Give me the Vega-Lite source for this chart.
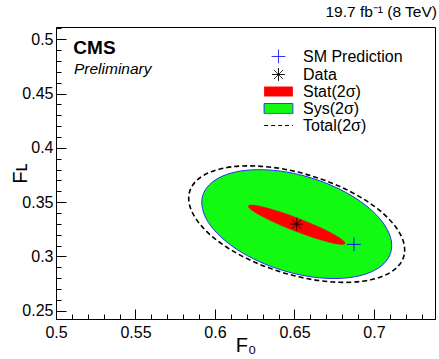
{
  "$schema": "https://vega.github.io/schema/vega-lite/v6.json",
  "width": 379,
  "height": 292,
  "autosize": {"type": "none"},
  "padding": {"left": 56, "top": 27, "right": 4, "bottom": 40},
  "background": "white",
  "title": {"text": "19.7 fb⁻¹ (8 TeV)", "anchor": "end", "frame": "group", "fontSize": 15.5, "fontWeight": "normal", "font": "Liberation Sans", "offset": 7, "dx": 2, "color": "black"},
  "config": {
    "view": {"stroke": "black", "strokeWidth": 1},
    "font": "Liberation Sans",
    "axis": {"grid": false, "labelFlush": false, "labelOverlap": false, "domainColor": "black", "tickColor": "black", "labelColor": "black", "titleColor": "black", "labelFont": "Liberation Sans", "titleFont": "Liberation Sans", "labelFontSize": 16, "titleFontSize": 20, "titleFontWeight": "normal", "tickWidth": 1, "domainWidth": 1}
  },
  "datasets": {
    "total": [
      {"i": 0, "F0": 0.7187, "FL": 0.2997}, {"i": 1, "F0": 0.7140, "FL": 0.2892}, {"i": 2, "F0": 0.7050, "FL": 0.2815},
      {"i": 3, "F0": 0.6924, "FL": 0.2771}, {"i": 4, "F0": 0.6770, "FL": 0.2763}, {"i": 5, "F0": 0.6599, "FL": 0.2791},
      {"i": 6, "F0": 0.6421, "FL": 0.2854}, {"i": 7, "F0": 0.6250, "FL": 0.2947}, {"i": 8, "F0": 0.6097, "FL": 0.3064},
      {"i": 9, "F0": 0.5972, "FL": 0.3197}, {"i": 10, "F0": 0.5885, "FL": 0.3337}, {"i": 11, "F0": 0.5840, "FL": 0.3474},
      {"i": 12, "F0": 0.5841, "FL": 0.3599}, {"i": 13, "F0": 0.5888, "FL": 0.3704}, {"i": 14, "F0": 0.5978, "FL": 0.3781},
      {"i": 15, "F0": 0.6104, "FL": 0.3825}, {"i": 16, "F0": 0.6258, "FL": 0.3833}, {"i": 17, "F0": 0.6430, "FL": 0.3805},
      {"i": 18, "F0": 0.6607, "FL": 0.3742}, {"i": 19, "F0": 0.6778, "FL": 0.3649}, {"i": 20, "F0": 0.6931, "FL": 0.3532},
      {"i": 21, "F0": 0.7056, "FL": 0.3399}, {"i": 22, "F0": 0.7143, "FL": 0.3259}, {"i": 23, "F0": 0.7188, "FL": 0.3122}
    ],
    "sys": [
      {"i": 0, "F0": 0.7105, "FL": 0.3034}, {"i": 1, "F0": 0.7062, "FL": 0.2933}, {"i": 2, "F0": 0.6981, "FL": 0.2856},
      {"i": 3, "F0": 0.6869, "FL": 0.2810}, {"i": 4, "F0": 0.6732, "FL": 0.2797}, {"i": 5, "F0": 0.6581, "FL": 0.2818},
      {"i": 6, "F0": 0.6425, "FL": 0.2872}, {"i": 7, "F0": 0.6275, "FL": 0.2955}, {"i": 8, "F0": 0.6142, "FL": 0.3061},
      {"i": 9, "F0": 0.6034, "FL": 0.3184}, {"i": 10, "F0": 0.5958, "FL": 0.3314}, {"i": 11, "F0": 0.5921, "FL": 0.3443},
      {"i": 12, "F0": 0.5923, "FL": 0.3562}, {"i": 13, "F0": 0.5967, "FL": 0.3663}, {"i": 14, "F0": 0.6047, "FL": 0.3740},
      {"i": 15, "F0": 0.6159, "FL": 0.3786}, {"i": 16, "F0": 0.6296, "FL": 0.3799}, {"i": 17, "F0": 0.6447, "FL": 0.3778},
      {"i": 18, "F0": 0.6603, "FL": 0.3724}, {"i": 19, "F0": 0.6753, "FL": 0.3641}, {"i": 20, "F0": 0.6886, "FL": 0.3535},
      {"i": 21, "F0": 0.6995, "FL": 0.3412}, {"i": 22, "F0": 0.7070, "FL": 0.3282}, {"i": 23, "F0": 0.7108, "FL": 0.3153}
    ],
    "stat": [
      {"i": 0, "F0": 0.6818, "FL": 0.3120}, {"i": 1, "F0": 0.6804, "FL": 0.3111}, {"i": 2, "F0": 0.6770, "FL": 0.3115},
      {"i": 3, "F0": 0.6718, "FL": 0.3131}, {"i": 4, "F0": 0.6653, "FL": 0.3158}, {"i": 5, "F0": 0.6578, "FL": 0.3194},
      {"i": 6, "F0": 0.6499, "FL": 0.3236}, {"i": 7, "F0": 0.6421, "FL": 0.3283}, {"i": 8, "F0": 0.6349, "FL": 0.3330},
      {"i": 9, "F0": 0.6289, "FL": 0.3374}, {"i": 10, "F0": 0.6244, "FL": 0.3413}, {"i": 11, "F0": 0.6217, "FL": 0.3444},
      {"i": 12, "F0": 0.6210, "FL": 0.3464}, {"i": 13, "F0": 0.6224, "FL": 0.3473}, {"i": 14, "F0": 0.6258, "FL": 0.3469},
      {"i": 15, "F0": 0.6310, "FL": 0.3453}, {"i": 16, "F0": 0.6375, "FL": 0.3426}, {"i": 17, "F0": 0.6450, "FL": 0.3391},
      {"i": 18, "F0": 0.6529, "FL": 0.3348}, {"i": 19, "F0": 0.6607, "FL": 0.3301}, {"i": 20, "F0": 0.6679, "FL": 0.3254},
      {"i": 21, "F0": 0.6739, "FL": 0.3210}, {"i": 22, "F0": 0.6784, "FL": 0.3171}, {"i": 23, "F0": 0.6811, "FL": 0.3140}
    ],
    "points": [
      {"series": "SM Prediction", "F0": 0.6874, "FL": 0.3111},
      {"series": "Data", "F0": 0.6514, "FL": 0.3298}
    ]
  },
  "layer": [
    {
      "data": {"name": "total"},
      "mark": {"type": "line", "interpolate": "cardinal-closed", "stroke": "black", "strokeWidth": 1.6, "strokeDash": [5, 3]},
      "encoding": {
        "x": {"field": "F0", "type": "quantitative", "scale": {"domain": [0.5, 0.7384], "nice": false, "zero": false},
              "axis": {"orient": "bottom", "values": [0.51, 0.52, 0.53, 0.54, 0.56, 0.57, 0.58, 0.59, 0.61, 0.62, 0.63, 0.64, 0.66, 0.67, 0.68, 0.69, 0.71, 0.72, 0.73], "labels": false, "title": null, "domain": false, "tickSize": -5}},
        "y": {"field": "FL", "type": "quantitative", "scale": {"domain": [0.2424, 0.5113], "nice": false, "zero": false},
              "axis": {"orient": "left", "values": [0.26, 0.27, 0.28, 0.29, 0.31, 0.32, 0.33, 0.34, 0.36, 0.37, 0.38, 0.39, 0.41, 0.42, 0.43, 0.44, 0.46, 0.47, 0.48, 0.49, 0.51], "labels": false, "title": null, "domain": false, "tickSize": -5}},
        "order": {"field": "i", "type": "quantitative"}
      }
    },
    {
      "data": {"name": "sys"},
      "mark": {"type": "line", "interpolate": "cardinal-closed", "fill": "#12fa12", "stroke": "#2a2aff", "strokeWidth": 1},
      "encoding": {
        "x": {"field": "F0", "type": "quantitative", "scale": {"domain": [0.5, 0.7384], "nice": false, "zero": false}, "axis": null},
        "y": {"field": "FL", "type": "quantitative", "scale": {"domain": [0.2424, 0.5113], "nice": false, "zero": false}, "axis": null},
        "order": {"field": "i", "type": "quantitative"}
      }
    },
    {
      "data": {"name": "stat"},
      "mark": {"type": "line", "interpolate": "cardinal-closed", "fill": "red", "stroke": "red", "strokeWidth": 0.5},
      "encoding": {
        "x": {"field": "F0", "type": "quantitative", "scale": {"domain": [0.5, 0.7384], "nice": false, "zero": false}, "axis": null},
        "y": {"field": "FL", "type": "quantitative", "scale": {"domain": [0.2424, 0.5113], "nice": false, "zero": false}, "axis": null},
        "order": {"field": "i", "type": "quantitative"}
      }
    },
    {
      "data": {"name": "points"},
      "mark": {"type": "point", "filled": false, "size": 256, "strokeWidth": 1, "opacity": 1},
      "encoding": {
        "x": {"field": "F0", "type": "quantitative", "scale": {"domain": [0.5, 0.7384], "nice": false, "zero": false},
              "axis": {"orient": "bottom", "values": [0.5, 0.55, 0.6, 0.65, 0.7], "format": ".2~f", "tickSize": -10, "labelPadding": 15, "title": "F₀", "titlePadding": -5}},
        "y": {"field": "FL", "type": "quantitative", "scale": {"domain": [0.2424, 0.5113], "nice": false, "zero": false},
              "axis": {"orient": "left", "values": [0.25, 0.3, 0.35, 0.4, 0.45, 0.5], "format": ".2~f", "tickSize": -10, "labelPadding": 13, "title": "Fʟ", "titlePadding": -9}},
        "fill": {"field": "series", "type": "nominal",
          "scale": {"domain": ["SM Prediction", "Data", "Stat(2σ)", "Sys(2σ)", "Total(2σ)"], "range": ["transparent", "transparent", "red", "#12fa12", "transparent"]},
          "legend": {"title": null, "orient": "none", "legendX": 214, "legendY": 21, "padding": 0, "direction": "vertical", "labelFontSize": 16, "labelFont": "Liberation Sans", "labelColor": "black", "labelOffset": 16, "rowPadding": -1, "symbolSize": 256, "symbolStrokeWidth": 1}},
        "stroke": {"field": "series", "type": "nominal",
          "scale": {"domain": ["SM Prediction", "Data", "Stat(2σ)", "Sys(2σ)", "Total(2σ)"], "range": ["#0000ff", "black", "transparent", "#2a2aff", "black"]},
          "legend": {"title": null, "orient": "none", "legendX": 214, "legendY": 21, "padding": 0, "direction": "vertical", "labelFontSize": 16, "labelFont": "Liberation Sans", "labelColor": "black", "labelOffset": 16, "rowPadding": -1, "symbolSize": 256, "symbolStrokeWidth": 1}},
        "shape": {"field": "series", "type": "nominal",
          "scale": {"domain": ["SM Prediction", "Data", "Stat(2σ)", "Sys(2σ)", "Total(2σ)"], "range": ["M-0.85,0H0.85M0,-0.85V0.85", "M-0.8,0H0.8M0,-0.8V0.8M-0.57,-0.57L0.57,0.57M-0.57,0.57L0.57,-0.57", "M-1.8,-0.62H1.8V0.62H-1.8Z", "M-1.8,-0.62H1.8V0.62H-1.8Z", "M-1.8,0H1.8"]},
          "legend": {"title": null, "orient": "none", "legendX": 214, "legendY": 21, "padding": 0, "direction": "vertical", "labelFontSize": 16, "labelFont": "Liberation Sans", "labelColor": "black", "labelOffset": 16, "rowPadding": -1, "symbolSize": 256, "symbolStrokeWidth": 1}},
        "strokeDash": {"field": "series", "type": "nominal",
          "scale": {"domain": ["SM Prediction", "Data", "Stat(2σ)", "Sys(2σ)", "Total(2σ)"], "range": [[1, 0], [1, 0], [1, 0], [1, 0], [4, 3]]},
          "legend": {"title": null, "orient": "none", "legendX": 214, "legendY": 21, "padding": 0, "direction": "vertical", "labelFontSize": 16, "labelFont": "Liberation Sans", "labelColor": "black", "labelOffset": 16, "rowPadding": -1, "symbolSize": 256, "symbolStrokeWidth": 1}}
      }
    },
    {
      "data": {"values": [{}]},
      "mark": {"type": "text", "text": "CMS", "font": "Liberation Sans", "fontWeight": "bold", "fontSize": 19, "align": "left", "baseline": "alphabetic", "color": "black"},
      "encoding": {
        "x": {"datum": 0.5109, "type": "quantitative", "scale": {"domain": [0.5, 0.7384], "nice": false, "zero": false}, "axis": null},
        "y": {"datum": 0.4867, "type": "quantitative", "scale": {"domain": [0.2424, 0.5113], "nice": false, "zero": false}, "axis": null}
      }
    },
    {
      "data": {"values": [{}]},
      "mark": {"type": "text", "text": "Preliminary", "font": "Liberation Sans", "fontStyle": "italic", "fontSize": 15.5, "align": "left", "baseline": "alphabetic", "color": "black"},
      "encoding": {
        "x": {"datum": 0.5113, "type": "quantitative", "scale": {"domain": [0.5, 0.7384], "nice": false, "zero": false}, "axis": null},
        "y": {"datum": 0.4683, "type": "quantitative", "scale": {"domain": [0.2424, 0.5113], "nice": false, "zero": false}, "axis": null}
      }
    }
  ],
  "resolve": {"axis": {"x": "independent", "y": "independent"}}
}
